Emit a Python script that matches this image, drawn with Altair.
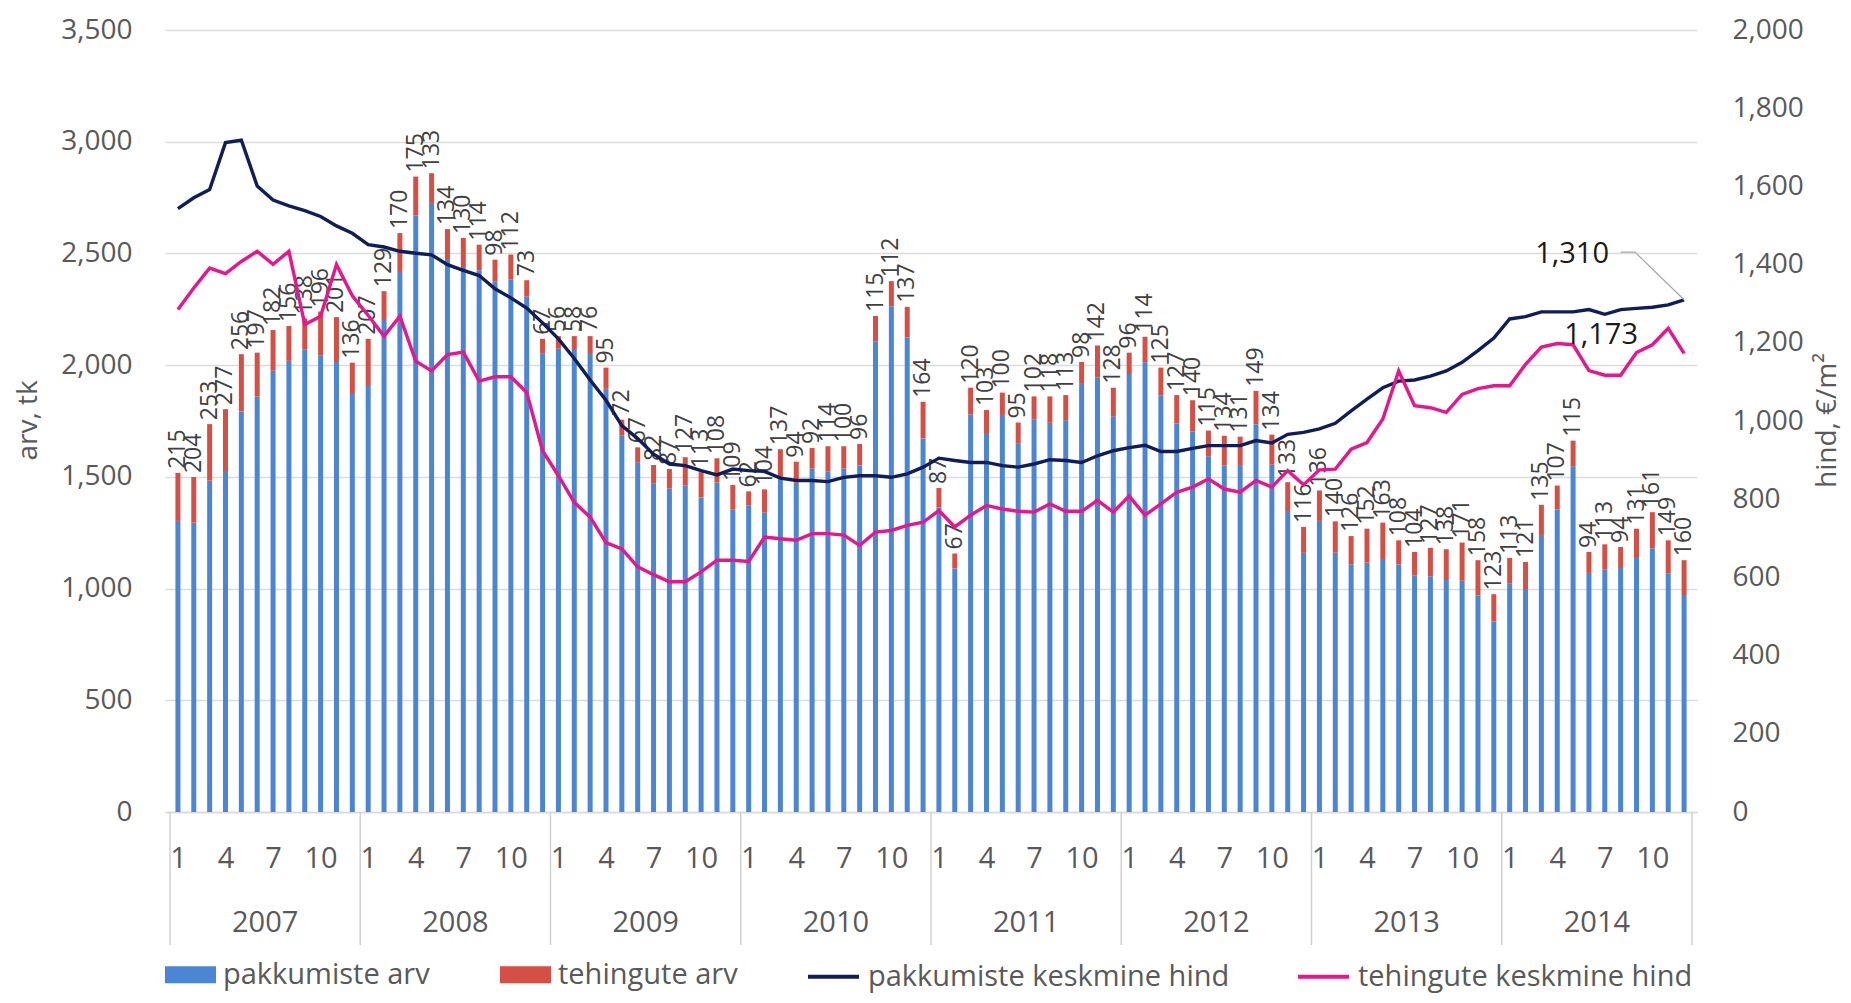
import altair as alt
import pandas as pd

years = ["2007", "2008", "2009", "2010", "2011", "2012", "2013", "2014"]
month_ticks = [1, 4, 7, 10]

# pakkumiste arv (blue part of bar)
offer_count = [
    1303, 1295, 1483, 1526, 1793, 1859, 1975, 2019, 2071, 2044, 2014, 1875,
    1911, 2202, 2421, 2669, 2726, 2475, 2439, 2425, 2374, 2383, 2307, 2051,
    2074, 2072, 2054, 1894, 1684, 1565, 1471, 1448, 1461, 1408, 1475, 1355,
    1373, 1340, 1487, 1474, 1537, 1523, 1537, 1551, 2105, 2264, 2124, 1672,
    1363, 1090, 1779, 1696, 1777, 1648, 1758, 1742, 1753, 1916, 1946, 1771,
    1960, 2013, 1864, 1739, 1703, 1592, 1550, 1549, 1736, 1555, 1343, 1160,
    1303, 1161, 1109, 1116, 1132, 1108, 1060, 1055, 1038, 1035, 969, 852,
    1024, 998, 1240, 1354, 1547, 1070, 1085, 1092, 1137, 1181, 1067, 967,
]
# tehingute arv (red part of bar, also the data labels)
deal_count = [
    215, 204, 253, 277, 256, 197, 182, 156, 138, 196, 201, 136,
    207, 129, 170, 175, 133, 134, 130, 114, 98, 112, 73, 67,
    56, 58, 76, 95, 72, 67, 82, 87, 127, 113, 108, 109,
    62, 104, 137, 94, 92, 114, 100, 96, 115, 112, 137, 164,
    87, 67, 120, 103, 100, 95, 102, 118, 113, 98, 142, 128,
    96, 114, 125, 127, 140, 115, 134, 131, 149, 134, 133, 116,
    136, 140, 126, 152, 163, 108, 104, 127, 138, 171, 158, 123,
    113, 121, 135, 107, 115, 94, 113, 94, 131, 161, 149, 160,
]
# pakkumiste keskmine hind
offer_price = [
    1543, 1571, 1592, 1712, 1718, 1601, 1565, 1550, 1538, 1523, 1499, 1480,
    1451, 1445, 1434, 1429, 1425, 1400, 1385, 1372, 1338, 1315, 1289, 1251,
    1210, 1160, 1105, 1053, 988, 955, 915, 890, 886, 873, 862, 877,
    873, 871, 854, 848, 848, 845, 856, 860, 860, 856, 865, 882,
    905, 899, 894, 894, 886, 882, 890, 901, 899, 894, 911, 924,
    932, 938, 922, 922, 930, 937, 937, 937, 950, 944, 966, 971,
    980, 994, 1026, 1056, 1085, 1102, 1105, 1115, 1128, 1150, 1180, 1212,
    1261, 1267, 1279, 1279, 1279, 1285, 1273, 1285, 1288, 1291, 1297, 1310,
]
# tehingute keskmine hind
deal_price = [
    1285, 1340, 1391, 1377, 1408, 1434, 1401, 1434, 1247, 1268, 1400, 1320,
    1270, 1217, 1268, 1153, 1128, 1170, 1176, 1102, 1113, 1113, 1073, 924,
    860, 792, 754, 689, 673, 627, 607, 589, 589, 614, 644, 644,
    641, 703, 699, 695, 712, 712, 708, 682, 716, 720, 733, 741,
    771, 729, 759, 784, 775, 769, 767, 788, 769, 769, 797, 767,
    808, 759, 788, 818, 831, 852, 826, 818, 848, 831, 873, 837,
    875, 877, 928, 945, 1005, 1128, 1039, 1034, 1022, 1068, 1083, 1090,
    1090, 1145, 1189, 1198, 1195, 1129, 1117, 1117, 1175, 1195, 1237, 1173,
]

bar_series = ["pakkumiste arv", "tehingute arv"]
line_series = ["pakkumiste keskmine hind", "tehingute keskmine hind"]

FONT = "Open Sans"
GRAY = "#595959"
W, H = 1532, 782
N = len(offer_count)

# ---- tables built from the arrays ----
bar_rows = []
for k in range(N):
    bar_rows.append({"i": k + 0.5, "series": bar_series[0], "value": offer_count[k], "ord": 0})
    bar_rows.append({"i": k + 0.5, "series": bar_series[1], "value": deal_count[k], "ord": 1})
bars_df = pd.DataFrame(bar_rows)

label_df = pd.DataFrame({
    "i": [k + 0.5 for k in range(N)],
    "value": [offer_count[k] + deal_count[k] for k in range(N)],
    "label": deal_count,
})

line_rows = []
for k in range(N):
    line_rows.append({"i": k + 0.5, "series": line_series[0], "price": offer_price[k]})
    line_rows.append({"i": k + 0.5, "series": line_series[1], "price": deal_price[k]})
lines_df = pd.DataFrame(line_rows)

year_df = pd.DataFrame({"year": years, "i": [12 * k + 6 for k in range(len(years))]})
sep_df = pd.DataFrame({"i": [12 * k for k in range(len(years) + 1)]})

end_df = pd.DataFrame({
    "i": [N - 0.5, N - 0.5],
    "price": [offer_price[-1], deal_price[-1]],
    "txt": [f"{offer_price[-1]:,}", f"{deal_price[-1]:,}"],
})
# leader line for the 1,310 callout
leader_df = pd.DataFrame({
    "i": [N - 4.5, N - 3.6, N - 0.5],
    "price": [offer_price[-1] + 122, offer_price[-1] + 122, offer_price[-1]],
    "o": [0, 1, 2],
})

tick_vals = [12 * y + (m - 1) + 0.5 for y in range(len(years)) for m in month_ticks]

x_scale = alt.Scale(domain=[0, N], nice=False, zero=False)
x_axis = alt.Axis(
    values=tick_vals,
    labelExpr="format(((datum.value - 0.5) % 12) + 1, 'd')",
    ticks=False, grid=False, domain=True, domainColor="#d9d9d9", domainWidth=1.5,
    labelFontSize=29, labelColor=GRAY, labelFont=FONT, labelPadding=32,
    labelOverlap=False, labelFlush=False, title=None,
)
x_enc = alt.X("i:Q", scale=x_scale, axis=x_axis)

left_scale = alt.Scale(domain=[0, 3500], nice=False)
right_scale = alt.Scale(domain=[0, 2000], nice=False)

left_axis = alt.Axis(
    orient="left", values=list(range(0, 3501, 500)),
    labelExpr="format(datum.value, ',d')",
    ticks=False, domain=False, grid=True, gridColor="#dcdcdc", gridWidth=1.5,
    labelFontSize=28, labelColor=GRAY, labelFont=FONT, labelPadding=33,
    title="arv, tk", titleFontSize=28, titleColor=GRAY, titleFont=FONT,
    titleFontWeight="normal", titleAngle=270, titleX=-137, titleY=390,
    titleAlign="center", titleBaseline="middle",
)
right_axis = alt.Axis(
    orient="right", values=list(range(0, 2001, 200)),
    labelExpr="format(datum.value, ',d')",
    ticks=False, domain=False, grid=False,
    labelFontSize=28, labelColor=GRAY, labelFont=FONT, labelPadding=35,
    title="hind, €/m²", titleFontSize=28, titleColor=GRAY, titleFont=FONT,
    titleFontWeight="normal", titleAngle=270, titleX=130, titleY=390,
    titleAlign="center", titleBaseline="middle",
)

bars = alt.Chart(bars_df).mark_bar(size=5).encode(
    x=x_enc,
    y=alt.Y("value:Q", stack="zero", scale=left_scale, axis=left_axis),
    fill=alt.Fill(
        "series:N",
        scale=alt.Scale(domain=bar_series, range=["#4A86D4", "#D64F44"]),
        legend=alt.Legend(
            orient="none", legendX=0, legendY=919, direction="horizontal", title=None,
            symbolType="M-1,-0.333H1V0.333H-1Z", symbolSize=2601, symbolStrokeWidth=0,
            labelFontSize=29, labelColor=GRAY, labelFont=FONT, labelOffset=7,
            columnPadding=70, labelLimit=600,
        ),
    ),
    order=alt.Order("ord:Q"),
)

labels = alt.Chart(label_df).mark_text(
    angle=270, align="left", baseline="middle", dx=4,
    fontSize=23, font=FONT, color="#404040",
).encode(
    x=x_enc,
    y=alt.Y("value:Q", scale=left_scale, axis=left_axis),
    text=alt.Text("label:Q"),
)

seps = alt.Chart(sep_df).mark_rule(color="#d0d0d0", strokeWidth=1.5).encode(
    x=x_enc,
    y=alt.value(H),
    y2=alt.value(H + 133),
)

year_text = alt.Chart(year_df).mark_text(
    fontSize=29, font=FONT, color=GRAY, baseline="middle", align="center",
).encode(
    x=x_enc,
    y=alt.value(H + 111),
    text="year:N",
)

left_group = alt.layer(bars, labels, seps, year_text)

lines = alt.Chart(lines_df).mark_line(strokeWidth=3.4).encode(
    x=x_enc,
    y=alt.Y("price:Q", scale=right_scale, axis=right_axis),
    stroke=alt.Stroke(
        "series:N",
        scale=alt.Scale(domain=line_series, range=["#0F1E5A", "#E6168C"]),
        legend=alt.Legend(
            orient="none", legendX=641, legendY=919, direction="horizontal", title=None,
            symbolType="M-1,0H1", symbolSize=2601, symbolStrokeWidth=4,
            labelFontSize=29, labelColor=GRAY, labelFont=FONT, labelOffset=7,
            columnPadding=60, labelLimit=600,
        ),
    ),
    detail="series:N",
)

leader = alt.Chart(leader_df).mark_line(color="#a6a6a6", strokeWidth=1.2).encode(
    x=x_enc,
    y=alt.Y("price:Q", scale=right_scale, axis=right_axis),
    order="o:Q",
)

end_310 = alt.Chart(end_df.iloc[[0]]).mark_text(
    fontSize=29, font=FONT, color="#1a1a1a", align="center", baseline="middle",
    dx=-112, dy=-46,
).encode(
    x=x_enc,
    y=alt.Y("price:Q", scale=right_scale, axis=right_axis),
    text="txt:N",
)
end_173 = alt.Chart(end_df.iloc[[1]]).mark_text(
    fontSize=29, font=FONT, color="#1a1a1a", align="center", baseline="middle",
    dx=-83, dy=-18,
).encode(
    x=x_enc,
    y=alt.Y("price:Q", scale=right_scale, axis=right_axis),
    text="txt:N",
)

right_group = alt.layer(lines, leader, end_310, end_173)

chart = (
    alt.layer(left_group, right_group)
    .resolve_scale(y="independent")
    .resolve_legend(fill="independent", stroke="independent")
    .properties(
        width=W, height=H,
        autosize=alt.AutoSizeParams(type="none"),
        padding={"left": 157, "top": 22, "right": 146, "bottom": 182},
        background="white",
    )
    .configure_view(stroke=None)
)

chart.save("out.html", embed_options={"renderer": "svg", "actions": False})
